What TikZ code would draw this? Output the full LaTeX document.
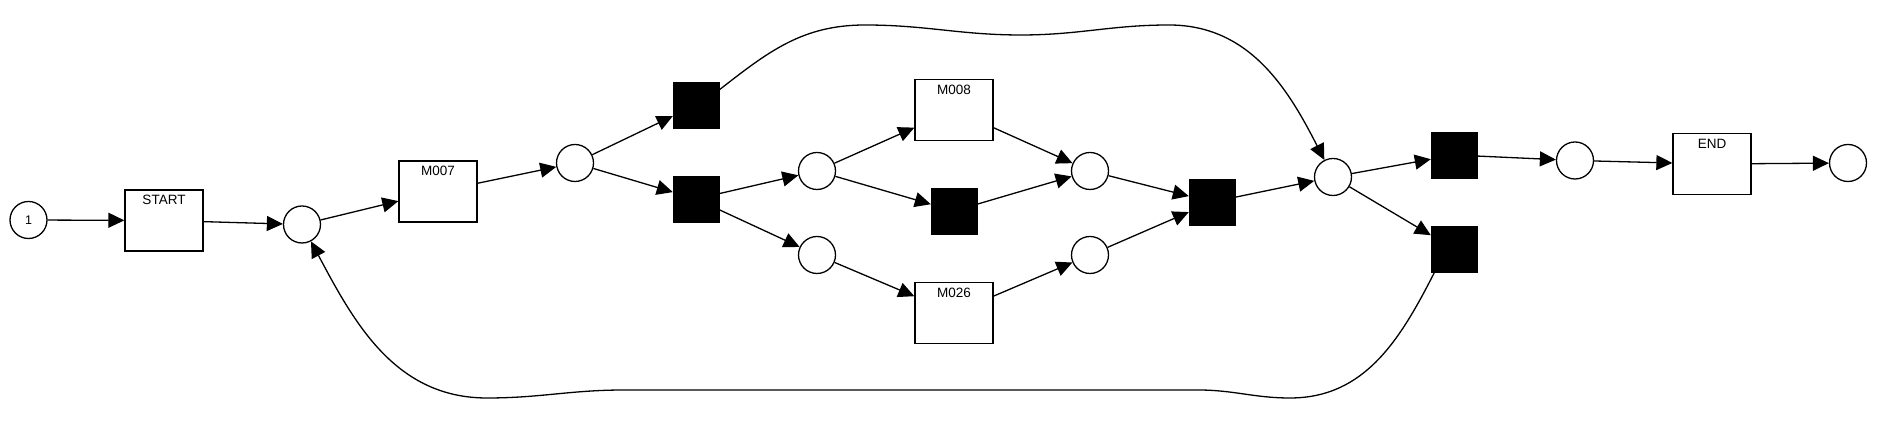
\documentclass[tikz,border=0pt]{standalone}
\usepackage{fontspec}
\setmainfont{Liberation Sans}
\usetikzlibrary{arrows.meta}
\begin{document}
\begin{tikzpicture}[x=1pt,y=1pt,
  place/.style={circle, draw, line width=1.3pt, minimum size=37pt, inner sep=0pt, fill=white, font=\fontsize{12.5}{14}\selectfont},
  trans/.style={rectangle, draw, line width=1.3pt, minimum width=78pt, minimum height=61pt, inner sep=0pt, fill=white},
  silent/.style={rectangle, draw=black, fill=black, minimum size=46pt, inner sep=0pt},
  tlabel/.style={font=\fontsize{13.5}{15}\selectfont, inner sep=0pt, anchor=north},
  arc/.style={line width=1.3pt, -{Triangle[length=16pt,width=15pt]}}]
\useasboundingbox (0,0) rectangle (1882,427);
\fill[white] (0,0) rectangle (1882,427);
% nodes
\node[place] (pin) at (28.5,207) {1};
\node[trans] (start) at (164,206.5) {};
\node[tlabel] (startl) at ([yshift=-6pt]start.north) {START};
\node[place] (p1) at (302,202.5) {};
\node[trans] (m007) at (438,235.5) {};
\node[tlabel] (m007l) at ([yshift=-6pt]m007.north) {M007};
\node[place] (p2) at (575,264) {};
\node[silent] (t1) at (696,322) {};
\node[silent] (t2) at (696,228) {};
\node[place] (p3) at (817,256) {};
\node[place] (p4) at (817,172) {};
\node[trans] (m008) at (954,317) {};
\node[tlabel] (m008l) at ([yshift=-6pt]m008.north) {M008};
\node[silent] (t3) at (954,216) {};
\node[trans] (m026) at (954,114) {};
\node[tlabel] (m026l) at ([yshift=-6pt]m026.north) {M026};
\node[place] (p5) at (1090,256) {};
\node[place] (p6) at (1090,172) {};
\node[silent] (t4) at (1212,225) {};
\node[place] (p7) at (1333,250) {};
\node[silent] (t5) at (1454,272) {};
\node[silent] (t6) at (1454,178) {};
\node[place] (p8) at (1575,266.5) {};
\node[trans] (endt) at (1712,263) {};
\node[tlabel] (endl) at ([yshift=-6pt]endt.north) {END};
\node[place] (pend) at (1848,264) {};
% waypoints
\coordinate (a1) at (865,402);
\coordinate (a2) at (1021,392);
\coordinate (a3) at (1169,402);
\coordinate (b1) at (1290,29);
\coordinate (b2) at (1198,37);
\coordinate (b3) at (624,37);
\coordinate (b4) at (487,29);
% arcs
\draw[arc] (pin) -- (start);
\draw[arc] (start) -- (p1);
\draw[arc] (p1) -- (m007);
\draw[arc] (m007) -- (p2);
\draw[arc] (p2) -- (t1);
\draw[arc] (p2) -- (t2);
\draw[arc] (t2) -- (p3);
\draw[arc] (t2) -- (p4);
\draw[arc] (p3) -- (m008);
\draw[arc] (p3) -- (t3);
\draw[arc] (p4) -- (m026);
\draw[arc] (m008) -- (p5);
\draw[arc] (t3) -- (p5);
\draw[arc] (m026) -- (p6);
\draw[arc] (p5) -- (t4);
\draw[arc] (p6) -- (t4);
\draw[arc] (t4) -- (p7);
\draw[arc] (p7) -- (t5);
\draw[arc] (p7) -- (t6);
\draw[arc] (t5) -- (p8);
\draw[arc] (p8) -- (endt);
\draw[arc] (endt) -- (pend);
\draw[arc] (t1.33) to[out=38,in=180] (a1) to[out=0,in=180] (a2) to[out=0,in=180] (a3) to[out=0,in=117] (p7);
\draw[arc] (t6.230) to[out=243,in=0] (b1) to[out=180,in=0] (b2) to[out=180,in=0] (b3) to[out=180,in=0] (b4) to[out=180,in=-62] (p1);
\end{tikzpicture}
\end{document}
